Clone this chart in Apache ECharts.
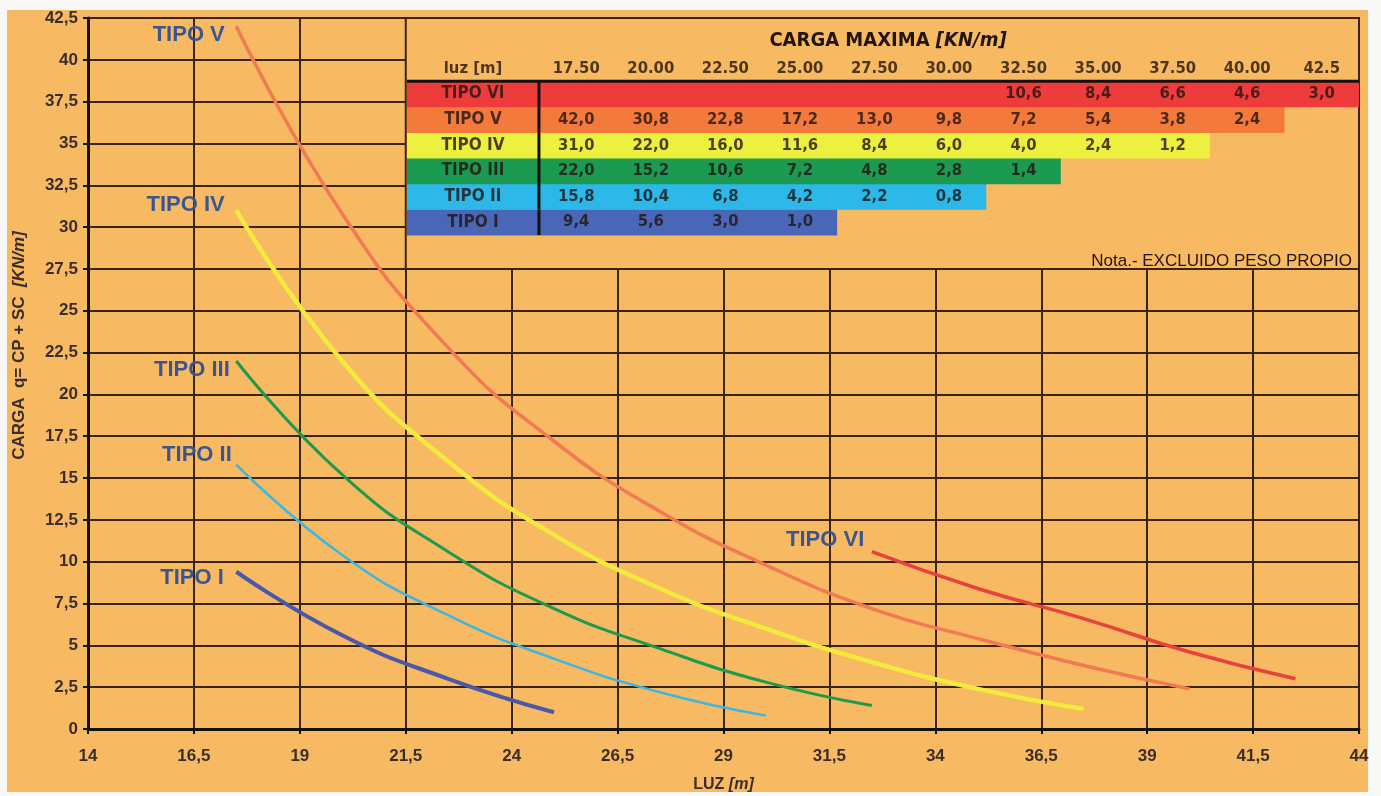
<!DOCTYPE html>
<html lang="es">
<head>
    <meta charset="UTF-8">
    <title>Carga maxima</title>
    <script src="https://cdn.jsdelivr.net/npm/echarts@6/dist/echarts.min.js"></script>
    <style>
        body { margin: 0; background: #f8f8f6; }
        #fondo { position: absolute; left: 7px; top: 10px; width: 1361px; height: 782px; background: #f8b963; }
        #grafico { position: absolute; left: 0; top: 0; width: 1381px; height: 796px; }
    </style>
</head>
<body>
<div id="fondo"></div>
<div id="grafico"></div>
<script type="text/javascript">
    // luces de la tabla [m]
    var luz = [17.5, 20, 22.5, 25, 27.5, 30, 32.5, 35, 37.5, 40, 42.5];
    var luzEtiquetas = ['17.50', '20.00', '22.50', '25.00', '27.50', '30.00', '32.50', '35.00', '37.50', '40.00', '42.5'];
    var tipos = ['TIPO I', 'TIPO II', 'TIPO III', 'TIPO IV', 'TIPO V', 'TIPO VI'];

    // carga maxima [KN/m] por tipo, alineada con luz
    var cargaI = [9.4, 5.6, 3.0, 1.0, null, null, null, null, null, null, null];
    var cargaII = [15.8, 10.4, 6.8, 4.2, 2.2, 0.8, null, null, null, null, null];
    var cargaIII = [22.0, 15.2, 10.6, 7.2, 4.8, 2.8, 1.4, null, null, null, null];
    var cargaIV = [31.0, 22.0, 16.0, 11.6, 8.4, 6.0, 4.0, 2.4, 1.2, null, null];
    var cargaV = [42.0, 30.8, 22.8, 17.2, 13.0, 9.8, 7.2, 5.4, 3.8, 2.4, null];
    var cargaVI = [null, null, null, null, null, null, 10.6, 8.4, 6.6, 4.6, 3.0];
    var cargas = [cargaI, cargaII, cargaIII, cargaIV, cargaV, cargaVI];

    // estilos
    var colorLinea = ['#4a58a8', '#3cb6e2', '#1e9a4c', '#f2ea3c', '#f07a52', '#e8423c'];
    var anchoLinea = [4, 2.5, 3, 4.5, 3.5, 3.5];
    var colorFila = ['#4a66b6', '#2cb8e8', '#1c9a52', '#eef040', '#f47a3c', '#ee3c3c'];
    var etiquetaDist = [12, 4, 6, 11, 11, 7];
    var etiquetaDy = [6, -10, 9, -5, 9, -12];

    var fondo = '#f8b963';
    var rejilla = '#3a2418';
    var fuente = '"Liberation Sans", Arial, sans-serif';
    var fuenteTabla = '"DejaVu Sans Condensed", "Liberation Sans Narrow", Arial, sans-serif';
    var tablaMin = -1.77, tablaMax = 11;

    function coma(v) {
        return String(v).replace('.', ',');
    }

    function ultimo(arr) {
        var u = -1;
        arr.forEach(function (v, i) { if (v !== null) u = i; });
        return u;
    }

    var myChart = echarts.init(document.getElementById('grafico'));

    // series de curvas
    var series = tipos.map(function (t, k) {
        var pts = [];
        cargas[k].forEach(function (v, i) {
            if (v !== null) pts.push([luz[i], v]);
        });
        return {
            name: t,
            type: 'line',
            xAxisIndex: 0,
            yAxisIndex: 0,
            data: pts,
            smooth: 0.5,
            symbol: 'none',
            z: 4,
            lineStyle: { color: colorLinea[k], width: anchoLinea[k] },
            silent: true,
            markPoint: {
                silent: true,
                symbol: 'circle',
                symbolSize: 1,
                itemStyle: { color: 'rgba(0,0,0,0)' },
                label: {
                    show: true,
                    formatter: t,
                    position: 'left',
                    distance: etiquetaDist[k],
                    offset: [0, etiquetaDy[k]],
                    color: '#3a5690',
                    fontSize: 22,
                    fontWeight: 'bold',
                    fontFamily: fuente
                },
                data: [{ coord: pts[0] }]
            }
        };
    });

    // zona lisa detras de la tabla
    series.push({
        type: 'line',
        xAxisIndex: 0,
        yAxisIndex: 0,
        data: [],
        z: 1,
        markArea: {
            silent: true,
            itemStyle: { color: fondo, borderColor: rejilla, borderWidth: 2 },
            data: [[{ coord: [21.5, 42.5] }, { coord: [44, 27.5] }]]
        }
    });

    // filas de color de la tabla
    var filasTabla = ['luz', 'TIPO VI', 'TIPO V', 'TIPO IV', 'TIPO III', 'TIPO II', 'TIPO I'];
    var datosFilas = tipos.map(function (t, k) {
        return [ultimo(cargas[k]) + 1, t, k];
    });
    series.push({
        type: 'custom',
        xAxisIndex: 1,
        yAxisIndex: 1,
        z: 5,
        silent: true,
        data: datosFilas,
        encode: { x: 0, y: 1 },
        renderItem: function (params, api) {
            var fila = api.value(1);
            var k = api.value(2);
            var h = api.size([0, 1])[1];
            var p0 = api.coord([tablaMin, fila]);
            var p1 = api.coord([api.value(0), fila]);
            var pv = api.coord([0, fila]);
            var arriba = p0[1] - h / 2;
            var hijos = [{
                type: 'rect',
                shape: { x: p0[0], y: arriba, width: p1[0] - p0[0], height: h + 0.5 },
                style: { fill: colorFila[k] }
            }, {
                type: 'line',
                z2: 10,
                shape: { x1: pv[0], y1: arriba, x2: pv[0], y2: arriba + h },
                style: { stroke: '#111', lineWidth: 3 }
            }];
            if (k === tipos.length - 1) {
                var pf = api.coord([tablaMax, fila]);
                hijos.push({
                    type: 'line',
                    z2: 10,
                    shape: { x1: p0[0], y1: arriba, x2: pf[0], y2: arriba },
                    style: { stroke: '#111', lineWidth: 3 }
                });
            }
            return { type: 'group', children: hijos };
        }
    });

    // textos de la tabla
    var textos = [[-0.885, 'luz', 'luz [m]']];
    luzEtiquetas.forEach(function (e, i) { textos.push([i + 0.5, 'luz', e]); });
    tipos.forEach(function (t, k) {
        textos.push({ value: [-0.885, t, t], label: { fontSize: 17 } });
        cargas[k].forEach(function (v, i) {
            if (v !== null) textos.push([i + 0.5, t, coma(v.toFixed(1))]);
        });
    });
    series.push({
        type: 'scatter',
        xAxisIndex: 1,
        yAxisIndex: 1,
        z: 6,
        silent: true,
        symbolSize: 0,
        data: textos,
        label: {
            show: true,
            position: 'inside',
            formatter: function (p) { return p.value[2]; },
            color: '#22140f',
            fontSize: 16.5,
            fontWeight: 'bold',
            fontFamily: fuenteTabla
        }
    });

    var ejeTexto = { color: '#3a2e2c', fontSize: 17, fontWeight: 'bold', fontFamily: fuente };

    var option = {
        animation: false,
        backgroundColor: 'transparent',
        title: [{
            text: '{b|CARGA MAXIMA }{i|[KN/m]}',
            left: 883,
            top: 26,
            textAlign: 'center',
            textStyle: {
                rich: {
                    b: { fontSize: 20, fontWeight: 'bold', color: '#22140f', fontFamily: fuenteTabla },
                    i: { fontSize: 20, fontWeight: 'bold', fontStyle: 'italic', color: '#22140f', fontFamily: fuenteTabla }
                }
            }
        }, {
            text: 'Nota.- EXCLUIDO PESO PROPIO',
            right: 24,
            top: 248,
            textStyle: { fontSize: 17, fontWeight: 'normal', color: '#22140f', fontFamily: fuente }
        }],
        grid: [
            { left: 88, right: 22, top: 18, bottom: 67, outerBoundsMode: 'none', containLabel: false },
            { left: 407, right: 22, top: 55.5, height: 179.5, outerBoundsMode: 'none', containLabel: false }
        ],
        xAxis: [{
            type: 'value',
            gridIndex: 0,
            min: 14,
            max: 44,
            interval: 2.5,
            name: 'LUZ {i|[m]}',
            nameLocation: 'middle',
            nameGap: 48,
            nameTextStyle: {
                color: '#3a2e2c', fontSize: 16, fontWeight: 'bold', fontFamily: fuente,
                rich: { i: { fontSize: 16, fontWeight: 'bold', fontStyle: 'italic', color: '#3a2e2c', fontFamily: fuente } }
            },
            axisLine: { show: true, onZero: false, lineStyle: { color: '#111', width: 3 } },
            axisTick: { show: true, length: 5, lineStyle: { color: '#111', width: 2 } },
            axisLabel: Object.assign({ margin: 19, formatter: coma }, ejeTexto),
            splitLine: { show: true, lineStyle: { color: rejilla, width: 2 } }
        }, {
            type: 'value',
            gridIndex: 1,
            min: tablaMin,
            max: tablaMax,
            show: false
        }],
        yAxis: [{
            type: 'value',
            gridIndex: 0,
            min: 0,
            max: 42.5,
            interval: 2.5,
            name: 'CARGA  q= CP + SC  {i|[KN/m]}',
            nameLocation: 'middle',
            nameGap: 60,
            nameTextStyle: {
                color: '#3a2e2c', fontSize: 17, fontWeight: 'bold', fontFamily: fuente,
                padding: [0, 0, 0, 56],
                rich: { i: { fontSize: 17, fontWeight: 'bold', fontStyle: 'italic', color: '#3a2e2c', fontFamily: fuente } }
            },
            axisLine: { show: true, onZero: false, lineStyle: { color: '#111', width: 3 } },
            axisTick: { show: true, length: 5, lineStyle: { color: '#111', width: 2 } },
            axisLabel: Object.assign({ margin: 10, formatter: coma }, ejeTexto),
            splitLine: { show: true, lineStyle: { color: rejilla, width: 2 } }
        }, {
            type: 'category',
            gridIndex: 1,
            data: filasTabla,
            inverse: true,
            show: false
        }],
        series: series
    };

    myChart.setOption(option);
</script>
</body>
</html>
